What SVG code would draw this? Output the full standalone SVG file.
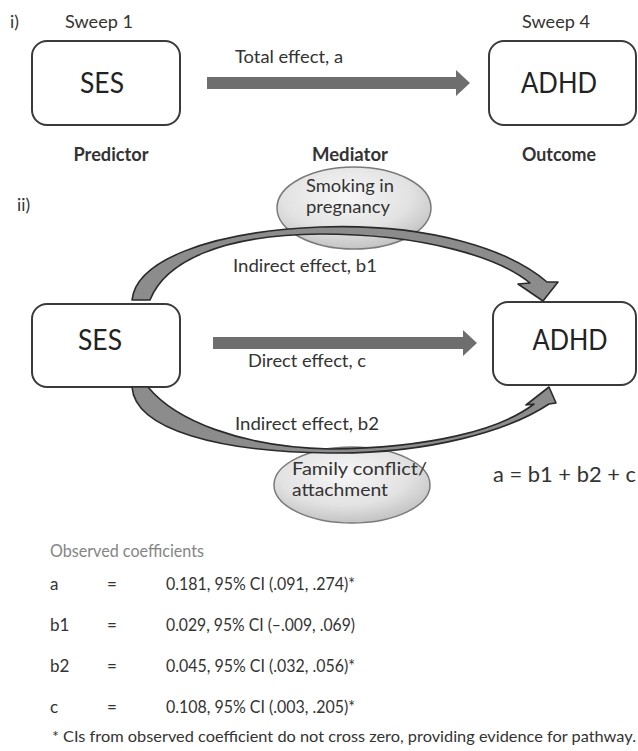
<svg xmlns="http://www.w3.org/2000/svg" width="638" height="751" viewBox="0 0 638 751">
<style>
text{font-family:Lato,"Open Sans","Liberation Sans",sans-serif;fill:#333}
.box{fill:#fff;stroke:#3a3a3a;stroke-width:2}
.big{font-size:28px;fill:#222}
.lbl{font-size:17.5px}
.hd{font-size:18px;font-weight:bold}
.ell{fill:url(#eg);stroke:#7a7a7a;stroke-width:1.5}
.bar{fill:#6e6e6e}
.curve{fill:#8c8c8c;stroke:#2a2a2a;stroke-width:1.6;stroke-linejoin:round}
.tbl{font-size:17px}
</style>
<defs>
<radialGradient id="eg" cx="0.45" cy="0.35" r="0.7">
<stop offset="0" stop-color="#f7f7f7"/>
<stop offset="0.6" stop-color="#e2e2e2"/>
<stop offset="1" stop-color="#bdbdbd"/>
</radialGradient>
</defs>

<!-- panel labels -->
<text x="10" y="28" class="lbl" font-size="18">i)</text>
<text x="17" y="211" class="lbl">ii)</text>
<text x="99" y="28" class="lbl" text-anchor="middle" textLength="68" lengthAdjust="spacingAndGlyphs">Sweep 1</text>
<text x="556" y="28" class="lbl" text-anchor="middle" textLength="68" lengthAdjust="spacingAndGlyphs">Sweep 4</text>
<text x="111" y="161" class="hd" text-anchor="middle" textLength="75" lengthAdjust="spacingAndGlyphs">Predictor</text>
<text x="350" y="161" class="hd" text-anchor="middle" textLength="76" lengthAdjust="spacingAndGlyphs">Mediator</text>
<text x="559" y="161" class="hd" text-anchor="middle" textLength="74" lengthAdjust="spacingAndGlyphs">Outcome</text>

<!-- part i nodes -->
<g id="ses1">
<rect class="box" x="32" y="41" width="148" height="84" rx="15"/>
<text class="big" x="102" y="93" text-anchor="middle" textLength="44" lengthAdjust="spacingAndGlyphs">SES</text>
</g>
<g id="adhd1">
<rect class="box" x="489" y="41" width="147" height="84" rx="15"/>
<text class="big" x="559" y="93" text-anchor="middle" textLength="76" lengthAdjust="spacingAndGlyphs">ADHD</text>
</g>

<!-- part ii nodes -->
<g id="ses2">
<rect class="box" x="32" y="304" width="148" height="83" rx="15"/>
<text class="big" x="100" y="350" text-anchor="middle" textLength="44" lengthAdjust="spacingAndGlyphs">SES</text>
</g>
<g id="adhd2">
<rect class="box" x="493" y="302" width="143" height="83" rx="15"/>
<text class="big" x="570" y="350" text-anchor="middle" textLength="75" lengthAdjust="spacingAndGlyphs">ADHD</text>
</g>
<g id="smoking">
<ellipse class="ell" cx="354" cy="208" rx="77" ry="41"/>
<text class="lbl" x="350" y="192" text-anchor="middle" textLength="88" lengthAdjust="spacingAndGlyphs">Smoking in</text>
<text class="lbl" x="348" y="213" text-anchor="middle" textLength="84" lengthAdjust="spacingAndGlyphs">pregnancy</text>
</g>
<g id="family">
<ellipse class="ell" cx="352" cy="485" rx="78" ry="38"/>
<text class="lbl" x="292" y="475" textLength="135" lengthAdjust="spacingAndGlyphs">Family conflict/</text>
<text class="lbl" x="292" y="496" textLength="96" lengthAdjust="spacingAndGlyphs">attachment</text>
</g>

<!-- connectors -->
<g id="connectors">
<path class="bar" d="M207,77 H456 V70 L470,83 L456,96 V89 H207 Z"/>
<path class="bar" d="M213,337 H463 V330 L477,343 L463,356 V349 H213 Z"/>
<path class="curve" d="M132,300 C136,262 205,232 320,227 C430,223 510,250 547,282 L558,282 L543,301 L518,284 L530,283 C500,258 425,234 320,234 C220,235 165,262 150,300 Z"/>
<path class="curve" d="M132,387 C135,430 220,452 330,453 C430,454 510,430 549,404 L556,403 L549,387 L526,405 L534,404 C500,430 430,448 330,449 C240,447 175,420 148,387 Z"/>
</g>

<!-- connector labels -->
<text class="lbl" x="235" y="63" textLength="108" lengthAdjust="spacingAndGlyphs">Total effect, a</text>
<text class="lbl" x="233" y="272" textLength="144" lengthAdjust="spacingAndGlyphs">Indirect effect, b1</text>
<text class="lbl" x="248" y="367" textLength="118" lengthAdjust="spacingAndGlyphs">Direct effect, c</text>
<text class="lbl" x="235" y="430" textLength="144" lengthAdjust="spacingAndGlyphs">Indirect effect, b2</text>
<text x="493" y="482" font-size="22" textLength="143" lengthAdjust="spacingAndGlyphs">a = b1 + b2 + c</text>

<!-- coefficients -->
<text x="50" y="557" style="fill:#858585" font-size="17" textLength="154" lengthAdjust="spacingAndGlyphs">Observed coefficients</text>
<g id="coefficients">
<text class="tbl" x="50" y="590">a</text>
<text class="tbl" x="107" y="590">=</text>
<text class="tbl" x="166" y="590" textLength="189" lengthAdjust="spacingAndGlyphs">0.181, 95% CI (.091, .274)*</text>
<text class="tbl" x="50" y="631">b1</text>
<text class="tbl" x="107" y="631">=</text>
<text class="tbl" x="166" y="631" textLength="189" lengthAdjust="spacingAndGlyphs">0.029, 95% CI (–.009, .069)</text>
<text class="tbl" x="50" y="672">b2</text>
<text class="tbl" x="107" y="672">=</text>
<text class="tbl" x="166" y="672" textLength="189" lengthAdjust="spacingAndGlyphs">0.045, 95% CI (.032, .056)*</text>
<text class="tbl" x="50" y="713">c</text>
<text class="tbl" x="107" y="713">=</text>
<text class="tbl" x="166" y="713" textLength="189" lengthAdjust="spacingAndGlyphs">0.108, 95% CI (.003, .205)*</text>
</g>
<text x="52" y="742" font-size="16" textLength="584" lengthAdjust="spacingAndGlyphs">* CIs from observed coefficient do not cross zero, providing evidence for pathway.</text>
</svg>
